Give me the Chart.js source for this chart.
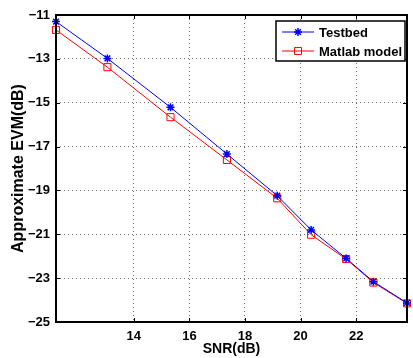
<!DOCTYPE html>
<html>
<head>
<meta charset="utf-8">
<script src="https://cdn.jsdelivr.net/npm/chart.js@4.4.0/dist/chart.umd.min.js"></script>
<style>
  html, body { margin: 0; padding: 0; background: #fff; }
  #wrap { width: 413px; height: 358px; }
</style>
</head>
<body>
<div id="wrap"><canvas id="chart" width="413" height="358"></canvas></div>
<script>
// values
const snr = [11.2, 13.05, 15.32, 17.35, 19.16, 20.38, 21.64, 22.62, 23.83];
const testbed = [-11.3, -12.98, -15.21, -17.34, -19.24, -20.8, -22.1, -23.16, -24.13];
const matlabModel = [-11.68, -13.38, -15.66, -17.61, -19.36, -21.02, -22.13, -23.2, -24.15];
const xTicks = [14, 16, 18, 20, 22];
const yTicks = [-25, -23, -21, -19, -17, -15, -13, -11];

const fontFamily = '"Liberation Sans", Arial, Helvetica, sans-serif';
const minus = (v) => (v < 0 ? '\u2212' + Math.abs(v) : String(v));

// black box, inward ticks and legend like matlab
const boxPlugin = {
  id: 'box',
  afterDraw(chart) {
    const { ctx, chartArea: a } = chart;
    const xs = chart.scales.x, ys = chart.scales.y;
    ctx.save();
    ctx.strokeStyle = '#000';
    ctx.lineWidth = 1;
    ctx.beginPath();
    xTicks.forEach((v) => {
      const px = Math.round(xs.getPixelForValue(v)) + 0.5;
      ctx.moveTo(px, a.bottom); ctx.lineTo(px, a.bottom - 4);
      ctx.moveTo(px, a.top); ctx.lineTo(px, a.top + 4);
    });
    yTicks.forEach((v) => {
      const py = Math.round(ys.getPixelForValue(v)) + 0.5;
      ctx.moveTo(a.left, py); ctx.lineTo(a.left + 4, py);
      ctx.moveTo(a.right, py); ctx.lineTo(a.right - 4, py);
    });
    ctx.stroke();
    ctx.lineWidth = 2;
    ctx.strokeRect(a.left, a.top, a.right - a.left, a.bottom - a.top);

    // legend
    const lx = 276, ly = 21, lw = 129, lh = 40;
    ctx.fillStyle = '#fff';
    ctx.fillRect(lx, ly, lw, lh);
    ctx.lineWidth = 1.5;
    ctx.strokeRect(lx, ly, lw, lh);
    ctx.font = 'bold 13px ' + fontFamily;
    ctx.textBaseline = 'middle';
    chart.data.datasets.forEach((ds, i) => {
      const y = ly + 11 + i * 19;
      ctx.strokeStyle = ds.borderColor;
      ctx.fillStyle = 'rgba(0,0,0,0)';
      ctx.lineWidth = 1;
      ctx.beginPath();
      ctx.moveTo(lx + 6, y); ctx.lineTo(lx + 38, y);
      ctx.stroke();
      ctx.lineWidth = ds.pointBorderWidth;
      Chart.helpers.drawPoint(ctx, {
        pointStyle: ds.pointStyle, radius: ds.pointRadius, borderWidth: ds.pointBorderWidth
      }, lx + 22, y);
      ctx.fillStyle = '#000';
      ctx.fillText(ds.label, lx + 43, y + 1);
    });
    ctx.restore();
  }
};

new Chart(document.getElementById('chart'), {
  type: 'line',
  data: {
    labels: snr,
    datasets: [
      {
        label: 'Testbed',
        data: snr.map((x, i) => ({ x, y: testbed[i] })),
        borderColor: '#0000ff',
        backgroundColor: 'rgba(0,0,0,0)',
        pointBorderColor: '#0000ff',
        pointBackgroundColor: 'rgba(0,0,0,0)',
        borderWidth: 1,
        pointStyle: 'star',
        pointRadius: 4,
        pointBorderWidth: 1.5,
        tension: 0
      },
      {
        label: 'Matlab model',
        data: snr.map((x, i) => ({ x, y: matlabModel[i] })),
        borderColor: '#ff0000',
        backgroundColor: 'rgba(0,0,0,0)',
        pointBorderColor: '#ff0000',
        pointBackgroundColor: 'rgba(0,0,0,0)',
        borderWidth: 1,
        pointStyle: 'rect',
        pointRadius: 5,
        pointBorderWidth: 1,
        tension: 0
      }
    ]
  },
  options: {
    responsive: false,
    animation: false,
    clip: false,
    layout: { padding: { top: 15, right: 1, left: 0, bottom: 0 } },
    plugins: { legend: { display: false }, tooltip: { enabled: false } },
    scales: {
      x: {
        type: 'linear',
        min: 11.2,
        max: 23.83,
        afterBuildTicks: (s) => { s.ticks = xTicks.map((v) => ({ value: v })); },
        afterFit: (s) => { s.height = 36; },
        grid: { color: 'rgba(0,0,0,0.55)', lineWidth: 1, drawTicks: false },
        border: { display: false, dash: [1, 3] },
        ticks: {
          color: '#000',
          padding: 7,
          maxRotation: 0,
          font: { family: fontFamily, size: 13, weight: 'bold' },
          callback: (v) => minus(v)
        },
        title: {
          display: true,
          text: 'SNR(dB)',
          color: '#000',
          padding: { top: 0, bottom: 0 },
          font: { family: fontFamily, size: 14, weight: 'bold', lineHeight: 1.2 }
        }
      },
      y: {
        min: -25,
        max: -11,
        afterBuildTicks: (s) => { s.ticks = yTicks.map((v) => ({ value: v })); },
        afterFit: (s) => { s.width = 56; },
        grid: { color: 'rgba(0,0,0,0.55)', lineWidth: 1, drawTicks: false },
        border: { display: false, dash: [1, 3] },
        ticks: {
          color: '#000',
          padding: 6,
          font: { family: fontFamily, size: 13, weight: 'bold' },
          callback: (v) => minus(v)
        },
        title: {
          display: true,
          text: 'Approximate EVM(dB)',
          color: '#000',
          padding: { top: 9, bottom: 0 },
          font: { family: fontFamily, size: 16, weight: 'bold', lineHeight: 1.2 }
        }
      }
    }
  },
  plugins: [boxPlugin]
});
</script>
</body>
</html>
